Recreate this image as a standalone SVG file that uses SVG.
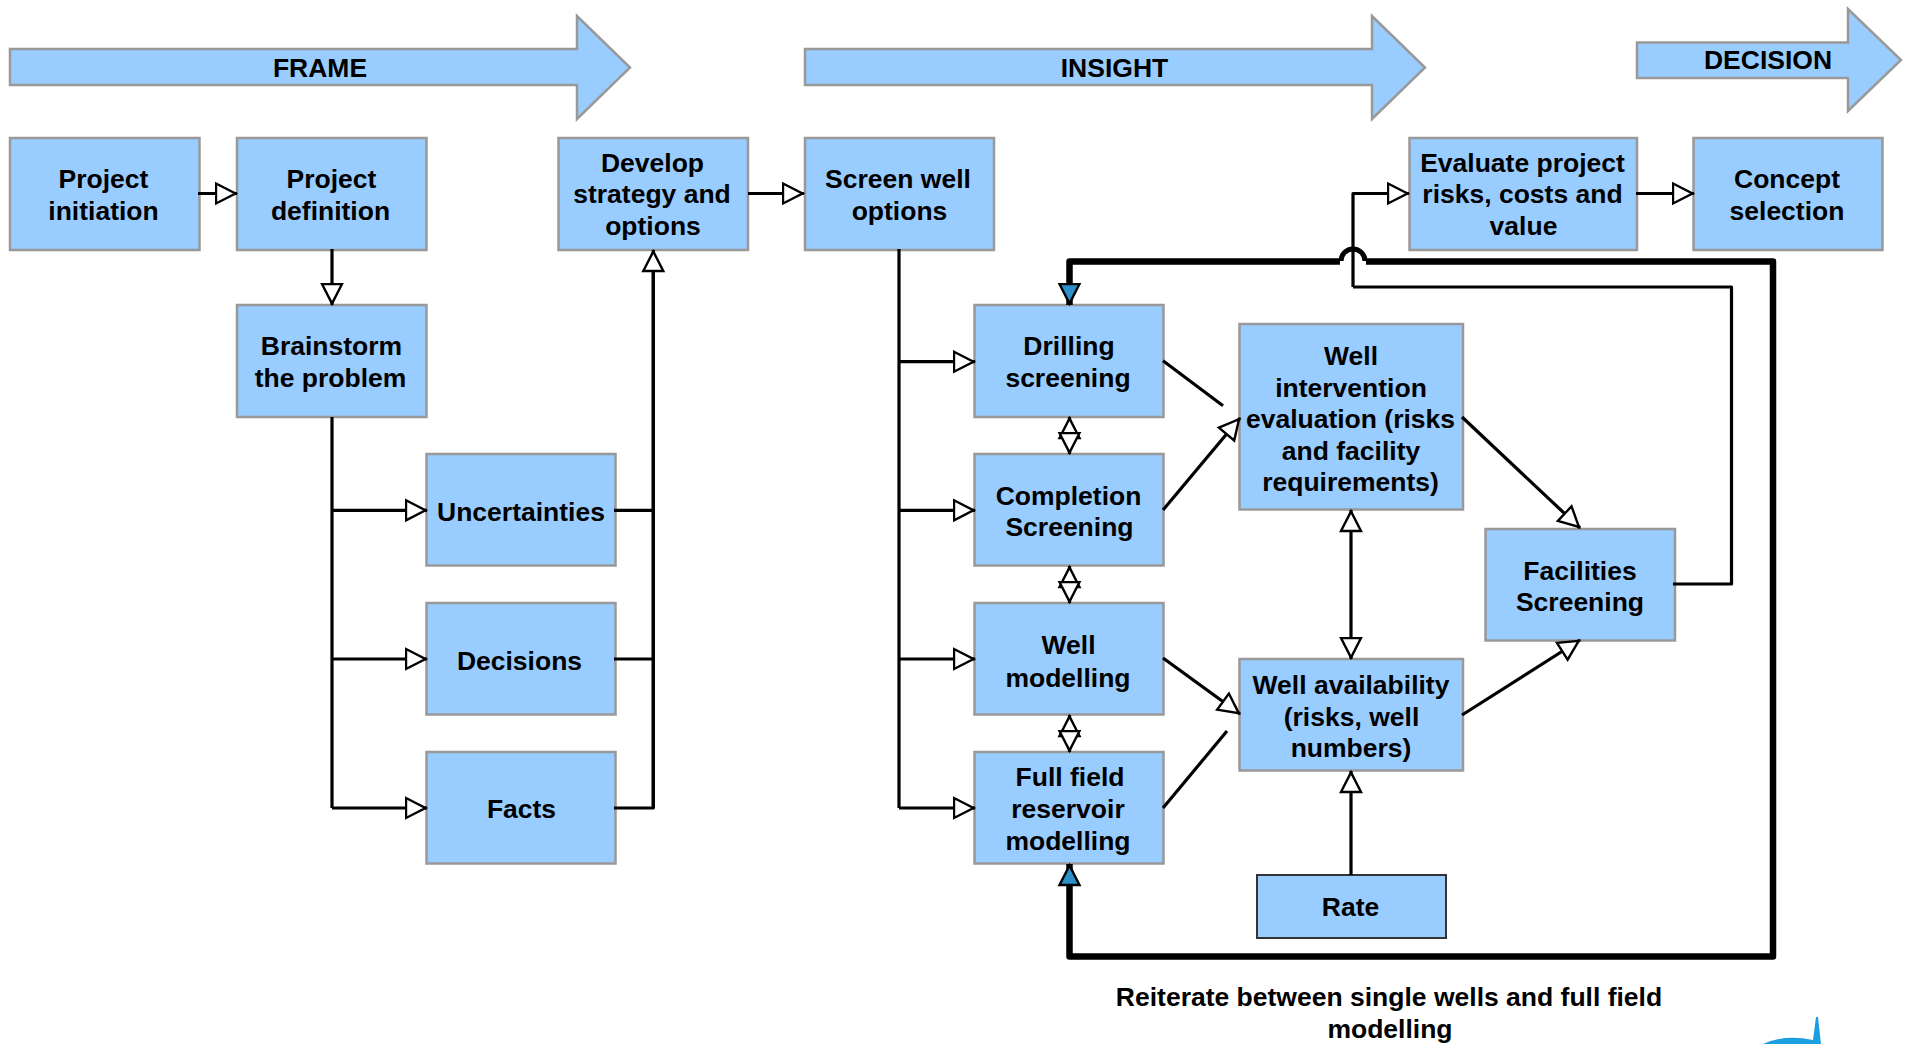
<svg xmlns="http://www.w3.org/2000/svg" width="1910" height="1044" viewBox="0 0 1910 1044">
<style>
text{font-family:"Liberation Sans",Arial,sans-serif;font-weight:700;font-size:26.5px;fill:#000;text-anchor:middle}
.b{fill:#99ccff;stroke:#999;stroke-width:2.5}
.r{fill:#99ccff;stroke:#333;stroke-width:2}
.c{fill:none;stroke:#000;stroke-width:3.2;stroke-linejoin:round}
.t{fill:none;stroke:#000;stroke-width:6.5;stroke-linejoin:round}
.h{marker-end:url(#w)}
.d{marker-start:url(#w);marker-end:url(#w)}
</style>
<defs>
<marker id="w" markerUnits="userSpaceOnUse" markerWidth="26" markerHeight="26" refX="22.5" refY="13" viewBox="0 0 26 26" orient="auto-start-reverse"><path d="M1.5 3L21 13L1.5 23Z" fill="#fff" stroke="#000" stroke-width="2.4"/></marker>
<marker id="f" markerUnits="userSpaceOnUse" markerWidth="26" markerHeight="26" refX="22.5" refY="13" viewBox="0 0 26 26" orient="auto-start-reverse"><path d="M1.5 3L21 13L1.5 23Z" fill="#2e90c8" stroke="#000" stroke-width="2.4"/></marker>
</defs>

<g id="phase-frame"><polygon class="b" points="10,49 577,49 577,16 630,67.500 577,119 577,85 10,85"/><text x="320" y="77">FRAME</text></g>
<g id="phase-insight"><polygon class="b" points="805,49 1372,49 1372,16 1425,67.500 1372,119 1372,85 805,85"/><text x="1114.500" y="77">INSIGHT</text></g>
<g id="phase-decision"><polygon class="b" points="1637,42.500 1848,42.500 1848,9 1901,60 1848,111 1848,78 1637,78"/><text x="1768" y="69">DECISION</text></g>

<g id="project-initiation"><rect class="b" x="10" y="138" width="189.500" height="112"/><text x="103.500" y="188">Project</text><text x="103.500" y="219.500">initiation</text></g>
<g id="project-definition"><rect class="b" x="237" y="138" width="189.500" height="112"/><text x="331.500" y="188">Project</text><text x="330.500" y="219.500">definition</text></g>
<g id="develop-strategy"><rect class="b" x="558.500" y="138" width="189.500" height="112"/><text x="652.500" y="172">Develop</text><text x="652" y="203">strategy and</text><text x="653" y="235">options</text></g>
<g id="screen-well-options"><rect class="b" x="805" y="138" width="189" height="112"/><text x="898" y="188">Screen well</text><text x="899.500" y="219.500">options</text></g>
<g id="evaluate"><rect class="b" x="1409.500" y="138" width="227.500" height="112"/><text x="1522.500" y="172">Evaluate project</text><text x="1522.500" y="203">risks, costs and</text><text x="1523.500" y="235">value</text></g>
<g id="concept-selection"><rect class="b" x="1693.500" y="138" width="189" height="112"/><text x="1787" y="188">Concept</text><text x="1787" y="219.500">selection</text></g>
<g id="brainstorm"><rect class="b" x="237" y="305" width="189.500" height="112"/><text x="331.500" y="355">Brainstorm</text><text x="330.500" y="387">the problem</text></g>
<g id="uncertainties"><rect class="b" x="426.500" y="454" width="189" height="111.500"/><text x="521" y="521">Uncertainties</text></g>
<g id="decisions"><rect class="b" x="426.500" y="603" width="189" height="111.500"/><text x="519.500" y="670">Decisions</text></g>
<g id="facts"><rect class="b" x="426.500" y="752" width="189" height="111.500"/><text x="521.500" y="818">Facts</text></g>
<g id="drilling"><rect class="b" x="974.500" y="305" width="189" height="112"/><text x="1069" y="355">Drilling</text><text x="1068" y="387">screening</text></g>
<g id="completion"><rect class="b" x="974.500" y="454" width="189" height="111.500"/><text x="1068.500" y="505">Completion</text><text x="1069.500" y="536">Screening</text></g>
<g id="well-modelling"><rect class="b" x="974.500" y="603" width="189" height="111.500"/><text x="1068.500" y="654">Well</text><text x="1068" y="687">modelling</text></g>
<g id="full-field"><rect class="b" x="974.500" y="752" width="189" height="111.500"/><text x="1070" y="786">Full field</text><text x="1068" y="818">reservoir</text><text x="1068" y="850">modelling</text></g>
<g id="well-intervention"><rect class="b" x="1239.500" y="324" width="223.500" height="185.500"/><text x="1351" y="365">Well</text><text x="1351" y="397">intervention</text><text x="1350.500" y="428">evaluation (risks</text><text x="1351" y="460">and facility</text><text x="1350.500" y="491">requirements)</text></g>
<g id="well-availability"><rect class="b" x="1239.500" y="659" width="223.500" height="111.500"/><text x="1351" y="694">Well availability</text><text x="1351.500" y="726">(risks, well</text><text x="1351" y="757">numbers)</text></g>
<g id="rate"><rect class="r" x="1257" y="875" width="189" height="63"/><text x="1350.500" y="916">Rate</text></g>
<g id="facilities"><rect class="b" x="1485.500" y="529" width="189.500" height="111.500"/><text x="1580" y="580">Facilities</text><text x="1580" y="611">Screening</text></g>

<g id="connectors">
<path class="c h" d="M198 193.500H237"/>
<path class="c h" d="M332 249V305"/>
<path class="c" d="M332 417V808"/>
<path class="c h" d="M332 510.300H427"/>
<path class="c h" d="M332 659H427"/>
<path class="c h" d="M332 808H427"/>
<path class="c" d="M614 510.300H653.300M614 659H653.300M614 808H653.300V270"/>
<path class="c h" d="M653.300 808V250"/>
<path class="c h" d="M748 193.500H804"/>
<path class="c" d="M899 249V808"/>
<path class="c h" d="M899 361.700H975"/>
<path class="c h" d="M899 510.300H975"/>
<path class="c h" d="M899 659H975"/>
<path class="c h" d="M899 808H975"/>
<path class="c d" d="M1069.500 417V454"/>
<path class="c d" d="M1069.500 566V603"/>
<path class="c d" d="M1069.500 715V752"/>
<path class="c d" d="M1351 510V659"/>
<path class="c h" d="M1351 875V771"/>
<path class="c" d="M1163 360.700L1223 405.700"/>
<path class="c h" d="M1163 510L1240 418"/>
<path class="c h" d="M1163 658L1240 714"/>
<path class="c" d="M1163 808L1227 731"/>
<path class="c h" d="M1462 417L1580 528"/>
<path class="c h" d="M1462 715L1580 640"/>
<path class="c" d="M1353 287H1731.500V584H1673"/>
<path class="c h" d="M1353 287V193.500H1409"/>
<path class="c h" d="M1636 193.500H1694"/>
<path class="t" style="marker-end:url(#f)" d="M1340 261.500H1069.500V305"/>
<path class="t" style="marker-end:url(#f)" d="M1366 261.500H1773V956.500H1069.500V864"/>
<path class="t" style="stroke-width:5" d="M1341 261A12 12 0 0 1 1365 261"/>
</g>

<g id="caption"><text x="1389" y="1006">Reiterate between single wells and full field</text><text x="1390" y="1038">modelling</text></g>
<path id="logo" fill="#1a9fe0" d="M1763 1044Q1785 1034 1813 1040L1816 1017H1818L1821 1044Z"/>
</svg>
